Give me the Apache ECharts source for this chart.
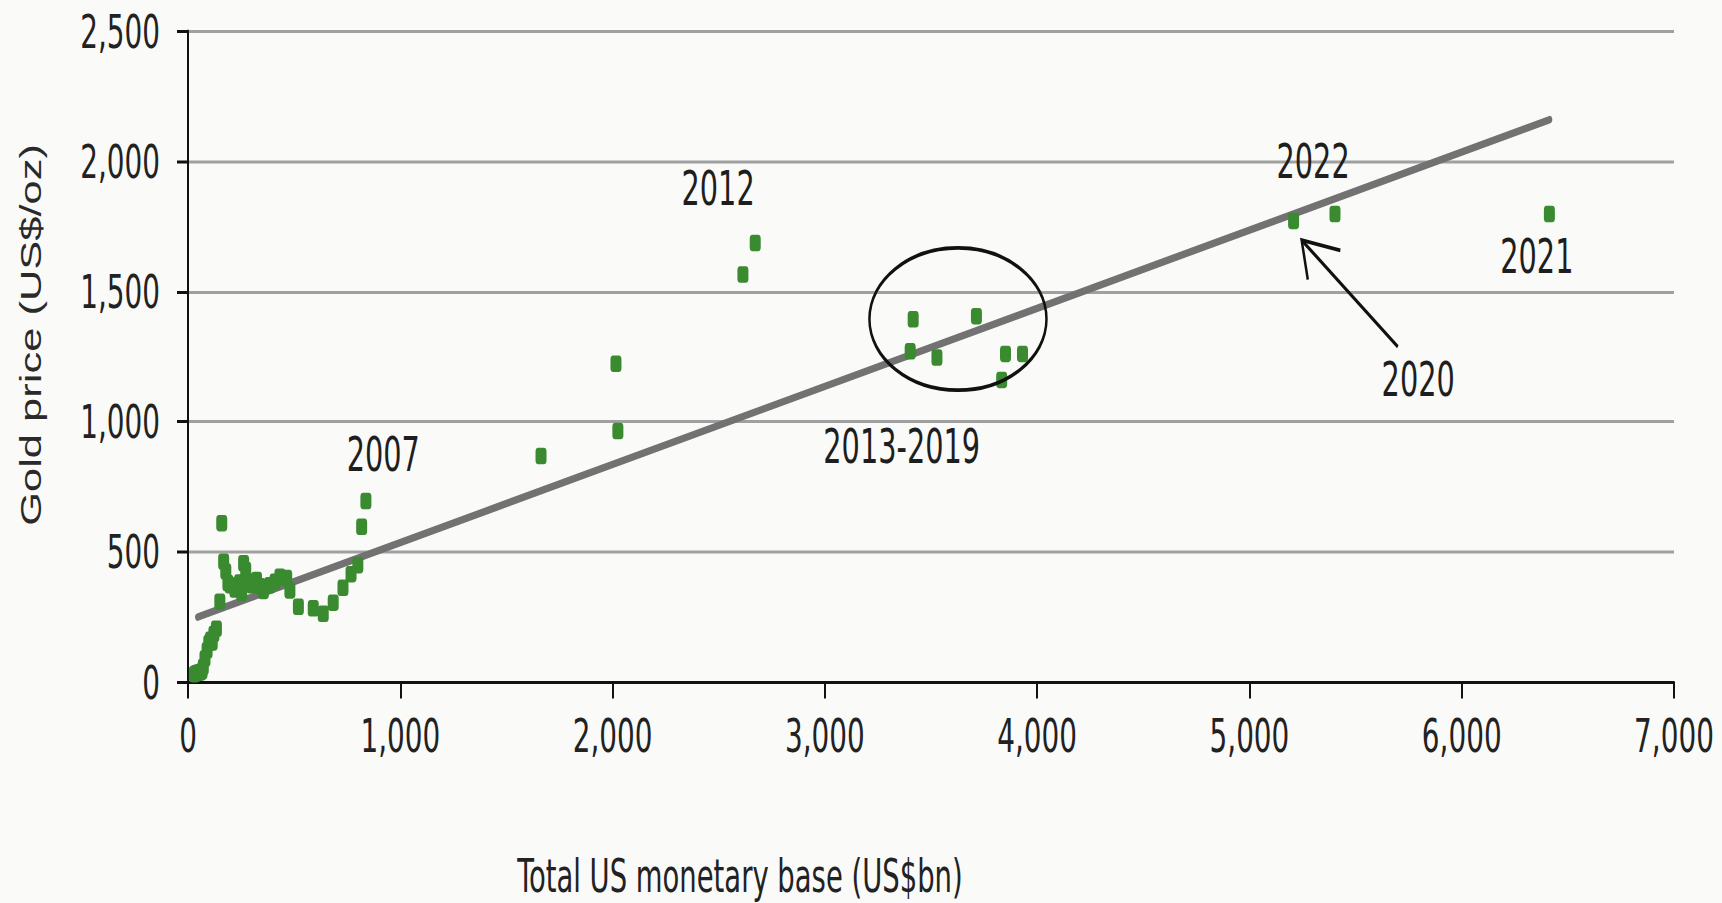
<!DOCTYPE html>
<html>
<head>
<meta charset="utf-8">
<title>Gold price vs US monetary base</title>
<script src="https://cdn.jsdelivr.net/npm/echarts@6/dist/echarts.min.js"></script>
<style>
html, body { margin: 0; padding: 0; background: #fafaf9; width: 1722px; height: 903px; overflow: hidden; }
#wrap { position: relative; width: 1722px; height: 903px; overflow: hidden; }
/* the source picture is stretched vertically, so the chart is drawn 1.5x shorter and scaled */
#main { position: absolute; left: 0; top: 0; width: 1722px; height: 602px; transform: scaleY(1.5); transform-origin: 0 0; }
</style>
</head>
<body>
<div id="wrap"><div id="main"></div></div>
<script>
var STRETCH = 1.5;

// total US monetary base (US$bn), one point a year
var monetaryBase = [30, 36, 42, 48, 54, 60, 66, 72, 80, 90, 98, 106, 114, 122, 134, 150,
	159, 168, 178, 188, 198, 221, 243, 253, 262, 272, 284, 300, 323, 340, 355, 385,
	410, 433, 465, 480, 520, 590, 637, 684, 730, 768, 800, 818, 838,
	1663, 2025, 2016, 2614, 2672,
	3402, 3416, 3528, 3714, 3833, 3851, 3931,
	5208, 5403, 6413];
// gold price (US$/oz)
var goldPrice = [30, 33, 35, 36, 38, 38, 42, 58, 90, 122, 150, 162, 152, 185, 205, 308,
	610, 462, 425, 380, 372, 355, 382, 342, 456, 430, 385, 372, 392, 368, 350, 372,
	385, 404, 400, 352, 289, 283, 262, 305, 362, 414, 449, 596, 695,
	868, 964, 1222, 1565, 1686,
	1270, 1393, 1246, 1405, 1160, 1260, 1260,
	1771, 1797, 1797];
// trend line end points
var trendBase = [45, 6415];
var trendGold = [249, 2160];

var xTicks = [0, 1000, 2000, 3000, 4000, 5000, 6000, 7000];
var yTicks = [0, 500, 1000, 1500, 2000, 2500];

// year notes, placed in data space
var noteText = ['2007', '2012', '2013-2019', '2022', '2021', '2020'];
var noteBase = [920, 2497, 3362, 5300, 6354, 5795];
var noteGold = [872, 1896, 904, 1998, 1633, 1160];

var points = [];
for (var i = 0; i < monetaryBase.length; i++) {
	points.push([monetaryBase[i], goldPrice[i]]);
}
var trend = [];
for (var j = 0; j < trendBase.length; j++) {
	trend.push([trendBase[j], trendGold[j]]);
}

var narrow = '"Liberation Sans Narrow", "Arial Narrow", "DejaVu Sans Condensed", "Liberation Sans", sans-serif';
var numFmt = function(v) { return v.toLocaleString('en-US'); };

var myChart = echarts.init(document.getElementById('main'), null, { renderer: 'svg' });
var option = {
	animation: false,
	grid: { left: 188, right: 48, top: 20.7, bottom: 147.3 },
	xAxis: {
		type: 'value',
		min: xTicks[0],
		max: xTicks[xTicks.length - 1],
		interval: 1000,
		axisLine: { show: true, lineStyle: { color: '#111', width: 2 } },
		axisTick: { show: true, length: 11, lineStyle: { color: '#111', width: 2 } },
		axisLabel: { margin: 20, color: '#222', fontSize: 31, fontFamily: narrow, formatter: numFmt },
		splitLine: { show: false }
	},
	yAxis: {
		type: 'value',
		min: yTicks[0],
		max: yTicks[yTicks.length - 1],
		interval: 500,
		axisLine: { show: true, lineStyle: { color: '#111', width: 2 } },
		axisTick: { show: true, length: 11, lineStyle: { color: '#111', width: 2 } },
		axisLabel: { margin: 28, color: '#222', fontSize: 31, fontFamily: narrow, formatter: numFmt },
		splitLine: { show: true, lineStyle: { color: '#a0a0a0', width: 2 } }
	},
	series: [{
		name: 'trend',
		type: 'line',
		data: trend,
		symbol: 'none',
		z: 2,
		lineStyle: { color: '#727272', width: 5, cap: 'round' }
	}, {
		name: 'gold',
		type: 'scatter',
		data: points,
		symbol: 'roundRect',
		symbolSize: [11, 11],
		z: 3,
		itemStyle: { color: '#3a8a30', opacity: 1 }
	}]
};
myChart.setOption(option);

// notes, circle and arrow go on top, worked out from data coordinates
function px(x, y) {
	return myChart.convertToPixel({ gridIndex: 0 }, [x, y]);
}
var graphics = [];
for (var k = 0; k < noteText.length; k++) {
	var p = px(noteBase[k], noteGold[k]);
	graphics.push({
		type: 'text', x: p[0], y: p[1], z: 10,
		style: { text: noteText[k], fill: '#1e1e1e', fontSize: 32, fontFamily: narrow,
			textAlign: 'center', textVerticalAlign: 'middle' }
	});
}
// circle round 2013-2019
var c = px(3627, 1394);
var e = px(3627 + 417, 1394 + 273);
graphics.push({
	type: 'ellipse', z: 10,
	shape: { cx: c[0], cy: c[1], rx: e[0] - c[0], ry: c[1] - e[1] },
	style: { fill: 'none', stroke: '#111', lineWidth: 2.5 }
});
// arrow to 2020
var tip = px(5246, 1697);
var tail = px(5699, 1288);
var dx = tail[0] - tip[0], dy = (tail[1] - tip[1]) * STRETCH;
var len = Math.sqrt(dx * dx + dy * dy);
dx /= len; dy /= len;
function head(ang) {
	var ca = Math.cos(ang), sa = Math.sin(ang);
	var hx = (dx * ca - dy * sa) * 40, hy = (dx * sa + dy * ca) * 40;
	return [tip[0] + hx, tip[1] + hy / STRETCH];
}
graphics.push({
	type: 'line', z: 10,
	shape: { x1: tail[0], y1: tail[1], x2: tip[0], y2: tip[1] },
	style: { stroke: '#111', lineWidth: 2.5 }
});
graphics.push({
	type: 'polyline', z: 10,
	shape: { points: [head(-0.58), tip, head(0.58)] },
	style: { stroke: '#111', lineWidth: 2.5, fill: 'none' }
});
// axis titles
graphics.push({
	type: 'text', x: 31, y: 223.3, rotation: Math.PI / 2, z: 10,
	style: { text: 'Gold price (US$/oz)', fill: '#2a2a2a', fontSize: 29, fontFamily: '"Liberation Sans", Arial, sans-serif',
		textAlign: 'center', textVerticalAlign: 'middle' }
});
graphics.push({
	type: 'text', x: 740, y: 584, z: 10,
	style: { text: 'Total US monetary base (US$bn)', fill: '#222', fontSize: 30.5, fontFamily: narrow,
		textAlign: 'center', textVerticalAlign: 'middle' }
});
myChart.setOption({ graphic: graphics });
</script>
</body>
</html>
